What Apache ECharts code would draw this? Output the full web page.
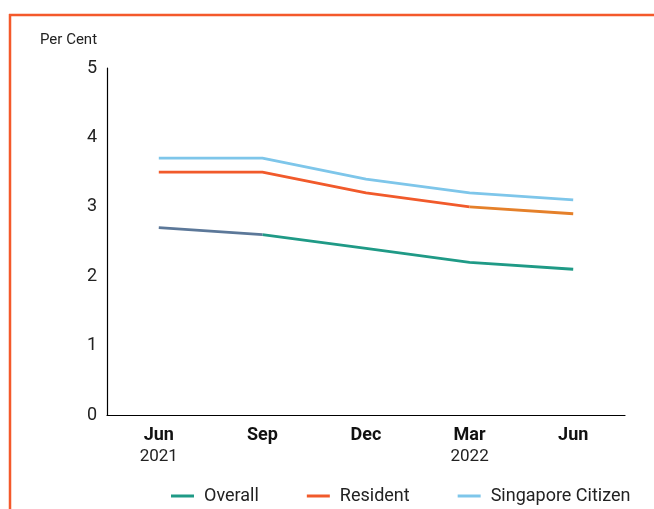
<!DOCTYPE html>
<html><head><meta charset="utf-8">
<script src="https://cdn.jsdelivr.net/npm/echarts@6/dist/echarts.min.js"></script>
<style>html,body{margin:0;padding:0;background:#fff}#c{width:654px;height:509px}</style>
</head><body><div id="c"></div>
<script>
const months = ['Jun', 'Sep', 'Dec', 'Mar', 'Jun'];
const years = ['2021', '', '', '2022', ''];
const overall = [2.7, 2.6, 2.4, 2.2, 2.1];
const resident = [3.5, 3.5, 3.2, 3.0, 2.9];
const citizen = [3.7, 3.7, 3.4, 3.2, 3.1];
const yTicks = [0, 1, 2, 3, 4, 5];
const seriesNames = ['Overall', 'Resident', 'Singapore Citizen'];

// segment helpers: keep only points in [a, b]
function part(arr, a, b) { return arr.map((v, i) => (i >= a && i <= b) ? v : '-'); }

const FONT = 'Roboto';
const LW = 2.8;
const chart = echarts.init(document.getElementById('c'), null, {renderer: 'canvas'});
chart.setOption({
  animation: false,
  textStyle: {fontFamily: FONT},
  graphic: [
    {type: 'line', shape: {x1: 9, y1: 15, x2: 654, y2: 15}, style: {stroke: '#F4592B', lineWidth: 2.5}},
    {type: 'line', shape: {x1: 10, y1: 14, x2: 10, y2: 509}, style: {stroke: '#F4592B', lineWidth: 2.5}},
    {type: 'text', left: 160, top: -16, style: {text: 'Unemployment Rate, Seasonally Adjusted, by Residency', font: 'bold 17px Roboto', fill: '#111'}},
    {type: 'text', left: 40, top: 33, style: {text: 'Per Cent', font: '15px Roboto', fill: '#222'}}
  ],
  legend: {
    top: 482,
    left: 166,
    itemGap: 48,
    itemWidth: 23,
    itemHeight: 3,
    icon: 'rect',
    textStyle: {fontSize: 18, color: '#222', fontFamily: FONT, padding: [0, 0, 0, 5]},
    data: seriesNames
  },
  grid: {left: 107, right: 29, top: 68, bottom: 94},
  xAxis: {
    type: 'category',
    data: months.map((m, i) => years[i] ? m + '\n' + years[i] : m),
    axisLine: {lineStyle: {color: '#000', width: 1.2}},
    axisTick: {show: false},
    axisLabel: {
      margin: 9,
      formatter: function (v) {
        const p = v.split('\n');
        return p.length > 1 ? '{b|' + p[0] + '}\n{r|' + p[1] + '}' : '{b|' + p[0] + '}';
      },
      rich: {
        b: {fontWeight: 'bold', fontSize: 18, color: '#111', fontFamily: FONT, lineHeight: 22},
        r: {fontSize: 17, color: '#222', fontFamily: FONT, lineHeight: 22}
      }
    }
  },
  yAxis: {
    type: 'value',
    min: yTicks[0], max: yTicks[yTicks.length - 1], interval: 1,
    axisLine: {show: true, lineStyle: {color: '#000', width: 1.2}},
    axisTick: {show: false},
    splitLine: {show: false},
    axisLabel: {fontSize: 18, color: '#222', margin: 10, fontFamily: FONT}
  },
  series: [
    {name: seriesNames[0], type: 'line', data: part(overall, 1, 4), symbol: 'none', lineStyle: {width: LW, color: '#1F9A86'}, itemStyle: {color: '#1F9A86'}},
    {name: seriesNames[1], type: 'line', data: part(resident, 0, 3), symbol: 'none', lineStyle: {width: LW, color: '#F15A2B'}, itemStyle: {color: '#F15A2B'}},
    {name: seriesNames[2], type: 'line', data: citizen, symbol: 'none', lineStyle: {width: LW, color: '#7EC6EA'}, itemStyle: {color: '#7EC6EA'}},
    {name: 'overall-start', type: 'line', data: part(overall, 0, 1), symbol: 'none', lineStyle: {width: LW, color: '#5C7899'}, itemStyle: {color: '#5C7899'}},
    {name: 'resident-end', type: 'line', data: part(resident, 3, 4), symbol: 'none', lineStyle: {width: LW, color: '#E5802A'}, itemStyle: {color: '#E5802A'}}
  ]
});
</script></body></html>
